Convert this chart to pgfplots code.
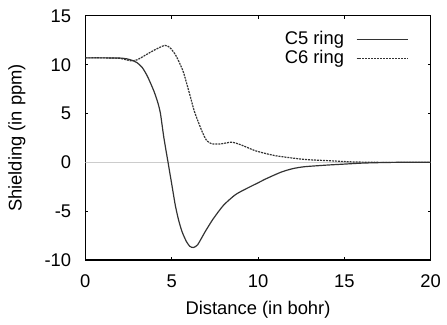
\documentclass[border=0pt]{standalone}
\usepackage{pgfplots}
\pgfplotsset{compat=1.18}
\usepackage{fontspec}
\setmainfont{Liberation Sans}
\begin{document}
\fontsize{18.5}{21}\selectfont
\begin{tikzpicture}
\begin{axis}[
  scale only axis,
  width=348pt, height=246pt,
  xmin=0, xmax=20, ymin=-10, ymax=15,
  xtick={0,5,10,15,20},
  ytick={-10,-5,0,5,10,15},
  /pgf/number format/assume math mode=true,
  axis line style={line width=1.1pt},
  tick style={black, line width=0.8pt},
  major tick length=3pt,
  tick align=inside,
  xticklabel style={anchor=center, yshift=-21pt},
  yticklabel style={anchor=east, xshift=-8pt},
  xlabel={Distance (in bohr)},
  ylabel={Shielding (in ppm)},
  xlabel style={at={(axis description cs:0.5,-0.203)}, anchor=center},
  ylabel style={at={(axis description cs:-0.198,0.5)}, anchor=center},
  legend plot pos=right,
  legend cell align=right,
  legend style={at={(rel axis cs:0.937,0.945)}, anchor=north east, draw=none, fill=none, inner sep=0pt, row sep=-1pt, column sep=10pt},
  legend image code/.code={\draw[#1] (0pt,0pt) -- (52pt,0pt);},
]
\addplot[gray!40, line width=1.5pt, forget plot] coordinates {(0,0) (20,0)};
\addplot[black!80, line width=1.2pt, smooth, tension=0.4] coordinates {
(0,10.7) (1,10.7) (2,10.68) (2.4,10.6) (2.7,10.45) (3.0,10.2) (3.3,9.7) (3.6,8.8)
(3.97,7.3) (4.2,6.1) (4.35,5.0) (4.55,2.5) (4.79,0) (5.0,-2.2) (5.21,-4.4) (5.4,-5.9)
(5.6,-7.1) (5.85,-8.1) (6.05,-8.6) (6.25,-8.72) (6.5,-8.45) (6.94,-7.1) (7.4,-5.8) (8.0,-4.4)
(8.7,-3.3) (9.43,-2.6) (10.0,-2.1) (10.48,-1.67) (11.34,-1.0) (12,-0.65) (12.68,-0.45)
(14,-0.28) (15,-0.18) (16,-0.08) (17,-0.03) (18,0) (20,0)};
\addlegendentry{C5 ring}
\addplot[black!80, line width=1.2pt, dash pattern=on 2pt off 1pt, smooth, tension=0.4] coordinates {
(0,10.7) (1,10.7) (2,10.65) (2.62,10.4) (3.0,10.5) (3.5,11.0) (4.0,11.5) (4.6,11.98)
(4.9,11.75) (5.21,11.04) (5.45,10.2) (5.69,9.18) (6.07,6.8) (6.3,5.3) (6.55,4.1)
(6.8,3.0) (7.03,2.23) (7.32,1.9) (7.8,1.88) (8.47,2.06) (9.0,1.8) (9.81,1.21)
(10.5,0.88) (11.15,0.64) (12.68,0.3) (14.2,0.16) (15.4,0.05) (17,0) (20,0)};
\addlegendentry{C6 ring}
\end{axis}
\useasboundingbox (-86pt,-59pt) rectangle (361pt,262pt);
\end{tikzpicture}
\end{document}
